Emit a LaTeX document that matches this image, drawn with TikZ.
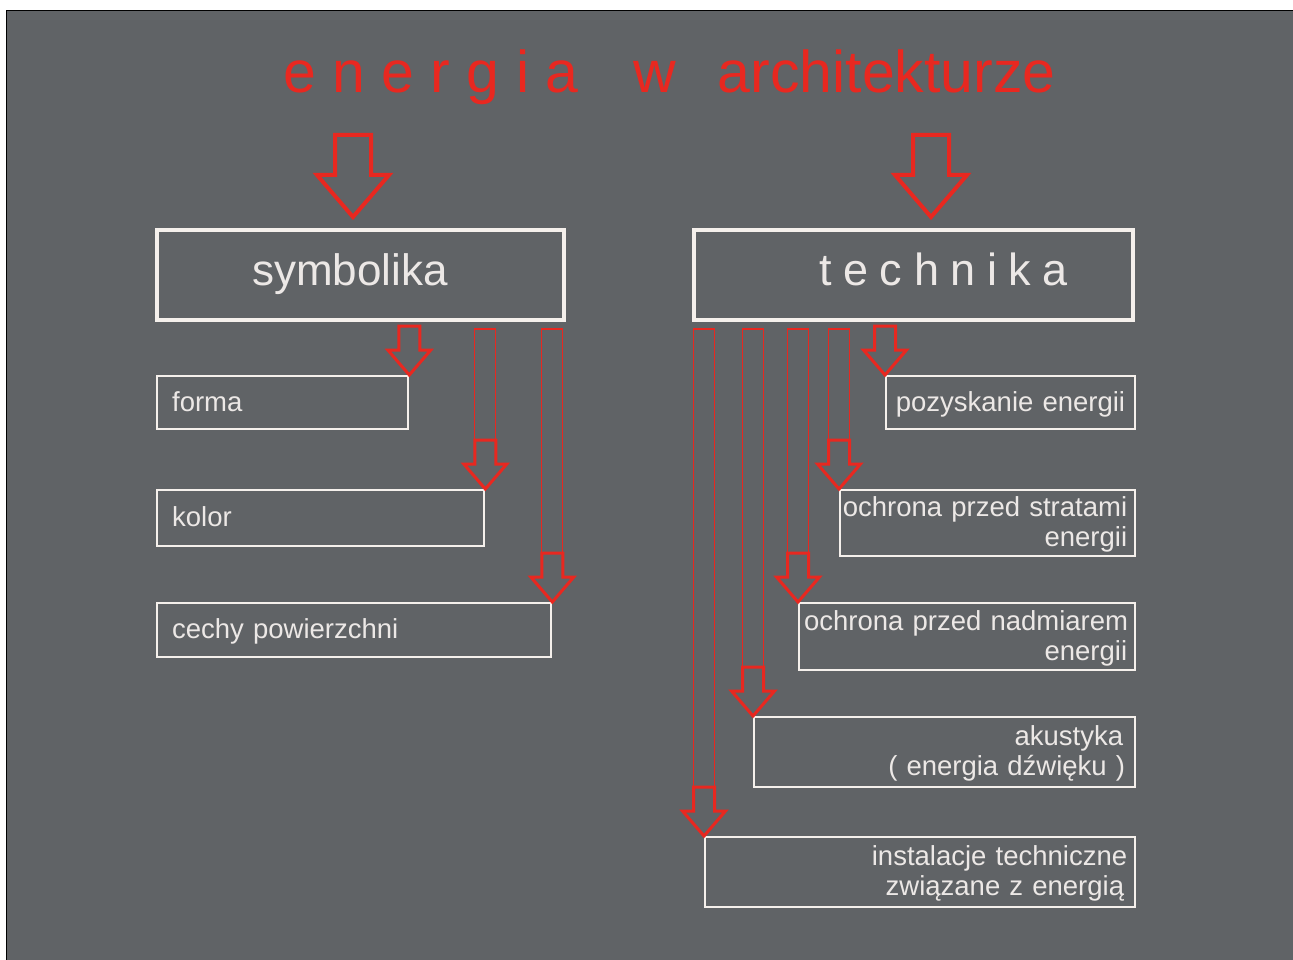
\documentclass[tikz,border=0pt]{standalone}
\usepackage{fontspec}
\setmainfont{Liberation Sans}
\usetikzlibrary{calc}
\definecolor{bg}{RGB}{96,99,102}
\definecolor{ared}{RGB}{232,40,32}
\definecolor{boxw}{RGB}{245,240,236}
\definecolor{txtw}{RGB}{236,232,230}
\newcommand\lstrut{\rule[-6pt]{0pt}{29pt}}
\newcommand\subarrow[1]{\draw[smallarrow] (#1) -- ++(-21.5,-25) -- ++(11,0) -- ++(0,-24) -- ++(21,0) -- ++(0,24) -- ++(11,0) -- cycle;}
\newcommand\barto[2]{\draw[arrowbar] ($(#1)+(-10.5,-49)$) rectangle ($(#1 |- #2)+(10.5,7)$);}
\newcommand\bigarr[1]{\draw[bigarrow] (#1) -- ++(-36,-42) -- ++(18,0) -- ++(0,-40) -- ++(36,0) -- ++(0,40) -- ++(18,0) -- cycle;}
\begin{document}
\begin{tikzpicture}[x=1pt,y=-1pt,
  bigbox/.style={draw=boxw, line width=4pt, rectangle, anchor=north west, text=txtw, inner ysep=0pt, minimum height=90pt},
  subbox/.style={draw=boxw, line width=2.3pt, rectangle, anchor=north west, text=txtw, inner ysep=0pt, font=\fontsize{27.5}{30}\selectfont},
  leftbox/.style={subbox, inner xsep=15pt, align=left},
  rightbox/.style={subbox, inner xsep=0.5pt, align=right},
  bigarrow/.style={draw=ared, line width=4pt},
  smallarrow/.style={draw=ared, line width=3pt},
  arrowbar/.style={draw=ared, line width=1.3pt},
  titletext/.style={text=ared, font=\fontsize{59}{70}\selectfont, anchor=base west, inner sep=0pt}]
\useasboundingbox (0,0) rectangle (1293,960);
\fill[white] (0,0) rectangle (1293,960);
\fill[bg] (6,10) rectangle (1293,960);
\draw[black, line width=1.5pt] (6.5,960) -- (6.5,10.5) -- (1293,10.5);

% title
\node[titletext] (title) at (283,93) {e n e r g i a\hspace{55pt}w\hspace{42pt}architekturze};

% main boxes
\node[bigbox, minimum width=407pt, text width=217pt, inner xsep=95pt, align=left, font=\fontsize{44}{53}\selectfont] (symb) at (155,228) {symbolika\strut};
\node[bigbox, minimum width=439pt, text width=309pt, inner xsep=65pt, align=right, font=\fontsize{45}{53}\selectfont] (tech) at (692,228) {\spaceskip=11.6pt\relax t e c h n i k a\strut};

% left sub boxes
\node[leftbox, minimum width=251pt, minimum height=53pt, text width=221pt] (forma) at (156,375) {\lstrut forma};
\node[leftbox, minimum width=327pt, minimum height=56pt, text width=297pt] (kolor) at (156,489) {\lstrut kolor};
\node[leftbox, minimum width=394pt, minimum height=54pt, text width=364pt] (cechy) at (156,602) {\lstrut cechy powierzchni};

% right sub boxes
\node[rightbox, minimum width=249pt, minimum height=53pt, text width=248pt] (poz) at (885,375) {\lstrut pozyskanie energii\kern9.5pt};
\node[rightbox, minimum width=295pt, minimum height=66pt, text width=294pt] (strat) at (839,489) {\lstrut ochrona przed stratami\kern7.5pt\\\lstrut energii\kern7.5pt};
\node[rightbox, minimum width=336pt, minimum height=67pt, text width=335pt] (nadm) at (798,602) {\lstrut ochrona przed nadmiarem\kern6.5pt\\\lstrut energii\kern7.5pt};
\node[rightbox, minimum width=381pt, minimum height=70pt, text width=380pt] (akus) at (753,716) {\lstrut akustyka\kern11.5pt\\\lstrut ( energia dźwięku )\kern9.5pt};
\node[rightbox, minimum width=430pt, minimum height=70pt, text width=429pt] (inst) at (704,836) {\lstrut instalacje techniczne\kern7.5pt\\\lstrut związane z energią\kern10.5pt};

% big arrows from title
\bigarr{$(symb.north)+(-7.5,-11)$}
\bigarr{$(tech.north)+(17.5,-11)$}

% symbolika arrows
\subarrow{forma.north east}
\barto{kolor.north east}{symb.south}
\subarrow{kolor.north east}
\barto{cechy.north east}{symb.south}
\subarrow{cechy.north east}

% technika arrows
\subarrow{poz.north west}
\barto{strat.north west}{tech.south}
\subarrow{strat.north west}
\barto{nadm.north west}{tech.south}
\subarrow{nadm.north west}
\barto{akus.north west}{tech.south}
\subarrow{akus.north west}
\barto{inst.north west}{tech.south}
\subarrow{inst.north west}
\end{tikzpicture}
\end{document}
